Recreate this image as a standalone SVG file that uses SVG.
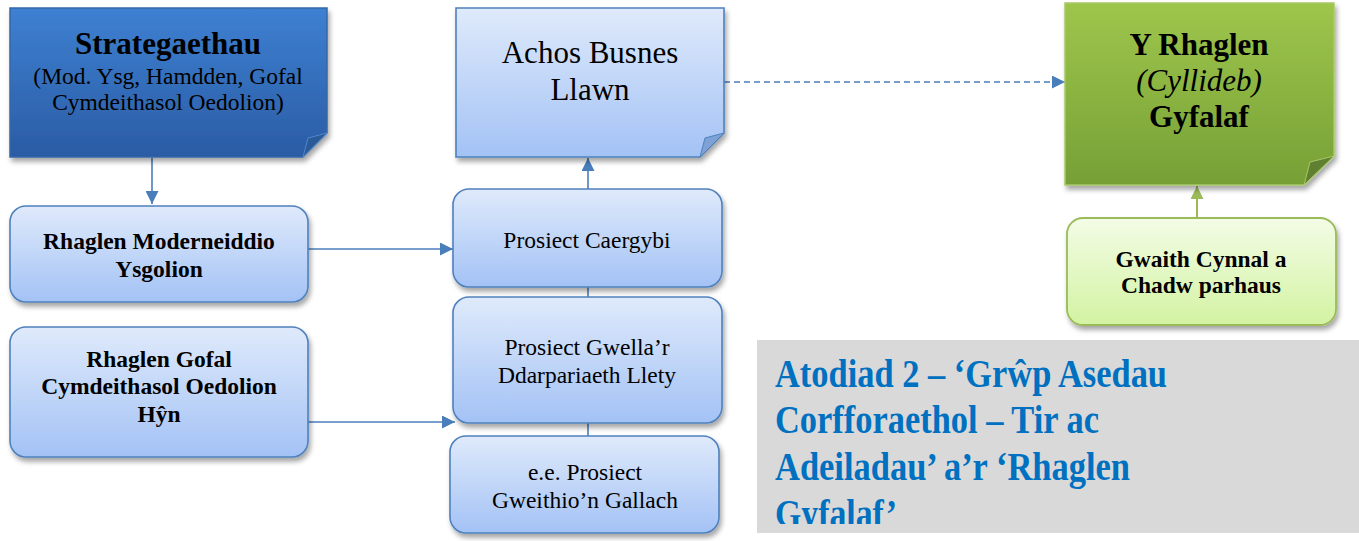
<svg xmlns="http://www.w3.org/2000/svg" width="1359" height="541" viewBox="0 0 1359 541">
<defs>
<style>
text{font-family:"Liberation Serif","Times New Roman",serif;fill:#000;text-anchor:middle}
.b{font-weight:bold}
.conn{stroke:#4A7EBB;stroke-width:1.6;fill:none}
.gconn{stroke:#9BBB59;stroke-width:2;fill:none}
.lb{fill:url(#gLB);stroke:#4F81BD;stroke-width:1.6}
.atit{font-weight:bold;fill:#0070C0;text-anchor:start;font-size:40px}
</style>
<linearGradient id="gDB" x1="0" y1="0" x2="0" y2="1"><stop offset="0" stop-color="#3E80D2"/><stop offset="1" stop-color="#2A5CA4"/></linearGradient>
<linearGradient id="gLB" x1="0" y1="0" x2="0" y2="1"><stop offset="0" stop-color="#DFEAFB"/><stop offset="1" stop-color="#A3C2F5"/></linearGradient>
<linearGradient id="gG" x1="0" y1="0" x2="0" y2="1"><stop offset="0" stop-color="#9EC64C"/><stop offset="1" stop-color="#76A036"/></linearGradient>
<linearGradient id="gLG" x1="0" y1="0" x2="0" y2="1"><stop offset="0" stop-color="#F3FCE6"/><stop offset="1" stop-color="#D3F3A2"/></linearGradient>
<filter id="sh" x="-10%" y="-10%" width="125%" height="130%"><feDropShadow dx="2" dy="4" stdDeviation="2.5" flood-color="#000" flood-opacity="0.35"/></filter>
<marker id="ab" viewBox="0 0 10 10" refX="10" refY="5" markerWidth="15" markerHeight="13" markerUnits="userSpaceOnUse" orient="auto"><path d="M0,0L10,5L0,10z" fill="#4A7EBB"/></marker>
<marker id="ag" viewBox="0 0 10 10" refX="10" refY="5" markerWidth="15" markerHeight="13" markerUnits="userSpaceOnUse" orient="auto"><path d="M0,0L10,5L0,10z" fill="#9BBB59"/></marker>
<clipPath id="clipT"><rect x="757" y="340" width="602" height="184"/></clipPath>
</defs>
<rect width="1359" height="541" fill="#fff"/>

<g id="connectors">
<line class="conn" x1="152" y1="158" x2="152" y2="204" marker-end="url(#ab)"/>
<line class="conn" x1="308" y1="249" x2="453" y2="249" marker-end="url(#ab)"/>
<line class="conn" x1="308" y1="422" x2="455" y2="422" marker-end="url(#ab)"/>
<line class="conn" x1="588" y1="189" x2="588" y2="158" marker-end="url(#ab)"/>
<line class="conn" x1="588" y1="287" x2="588" y2="297"/>
<line class="conn" x1="588" y1="423" x2="588" y2="436"/>
<line class="conn" x1="724" y1="82" x2="1065" y2="82" stroke-dasharray="6,4" marker-end="url(#ab)"/>
<line class="gconn" x1="1197" y1="218" x2="1197" y2="186" marker-end="url(#ag)"/>
</g>

<g id="strategaethau">
<path d="M10,8H327V133L303,157H10Z" fill="url(#gDB)" stroke="#3467A8" stroke-width="1.5" filter="url(#sh)"/>
<path d="M303,157L327,133L308,138Z" fill="#2B5A98" stroke="#4F86CC" stroke-width="1"/>
<text x="168" y="54" class="b" font-size="31">Strategaethau</text>
<text x="168" y="84" font-size="23.5">(Mod. Ysg, Hamdden, Gofal</text>
<text x="168" y="110" font-size="23.5">Cymdeithasol Oedolion)</text>
</g>

<g id="achos">
<path d="M456,8H724V133L700,157H456Z" fill="url(#gLB)" stroke="#4F81BD" stroke-width="1.6" filter="url(#sh)"/>
<path d="M700,157L724,133L705,138Z" fill="#7EA2D6" stroke="#4F81BD" stroke-width="1"/>
<text x="590" y="63" font-size="31">Achos Busnes</text>
<text x="590" y="100" font-size="31">Llawn</text>
</g>

<g id="rhaglen-gyfalaf">
<path d="M1065,3H1334V156L1304,185H1065Z" fill="url(#gG)" stroke="#A8C86A" stroke-width="1.5" filter="url(#sh)"/>
<path d="M1304,185L1334,156L1310,162Z" fill="#5E8030" stroke="#A8C86A" stroke-width="1"/>
<text x="1199" y="55" class="b" font-size="31">Y Rhaglen</text>
<text x="1199" y="91" font-style="italic" font-size="31">(Cyllideb)</text>
<text x="1199" y="127" class="b" font-size="31">Gyfalaf</text>
</g>

<g id="moderneiddio">
<rect x="10" y="206" width="298" height="96" rx="16" class="lb" filter="url(#sh)"/>
<text x="159" y="249" class="b" font-size="23.5">Rhaglen Moderneiddio</text>
<text x="159" y="277" class="b" font-size="23.5">Ysgolion</text>
</g>

<g id="gofal">
<rect x="10" y="327" width="298" height="130" rx="16" class="lb" filter="url(#sh)"/>
<text x="159" y="367" class="b" font-size="23.5">Rhaglen Gofal</text>
<text x="159" y="394" class="b" font-size="23.5">Cymdeithasol Oedolion</text>
<text x="159" y="422" class="b" font-size="23.5">Hŷn</text>
</g>

<g id="caergybi">
<rect x="453" y="189" width="269" height="98" rx="16" class="lb" filter="url(#sh)"/>
<text x="587" y="248" font-size="23.5">Prosiect Caergybi</text>
</g>

<g id="gwella">
<rect x="453" y="297" width="269" height="126" rx="16" class="lb" filter="url(#sh)"/>
<text x="587" y="355" font-size="23.5">Prosiect Gwella’r</text>
<text x="587" y="383" font-size="23.5">Ddarpariaeth Llety</text>
</g>

<g id="gallach">
<rect x="450" y="436" width="269" height="97" rx="16" class="lb" filter="url(#sh)"/>
<text x="585" y="480" font-size="23.5">e.e. Prosiect</text>
<text x="585" y="508" font-size="23.5">Gweithio’n Gallach</text>
</g>

<g id="gwaith">
<rect x="1067" y="218" width="269" height="107" rx="16" fill="url(#gLG)" stroke="#9BBB59" stroke-width="1.8" filter="url(#sh)"/>
<text x="1201" y="267" class="b" font-size="23.5">Gwaith Cynnal a</text>
<text x="1201" y="293" class="b" font-size="23.5">Chadw parhaus</text>
</g>

<g id="atodiad">
<rect x="757" y="340" width="602" height="193" fill="#D9D9D9"/>
<g clip-path="url(#clipT)">
<text class="atit" x="775" y="387" textLength="392" lengthAdjust="spacingAndGlyphs">Atodiad 2 – ‘Grŵp Asedau</text>
<text class="atit" x="775" y="433" textLength="324" lengthAdjust="spacingAndGlyphs">Corfforaethol – Tir ac</text>
<text class="atit" x="775" y="480" textLength="355" lengthAdjust="spacingAndGlyphs">Adeiladau’ a’r ‘Rhaglen</text>
<text class="atit" x="775" y="527" textLength="122" lengthAdjust="spacingAndGlyphs">Gyfalaf’</text>
</g>
</g>
</svg>
